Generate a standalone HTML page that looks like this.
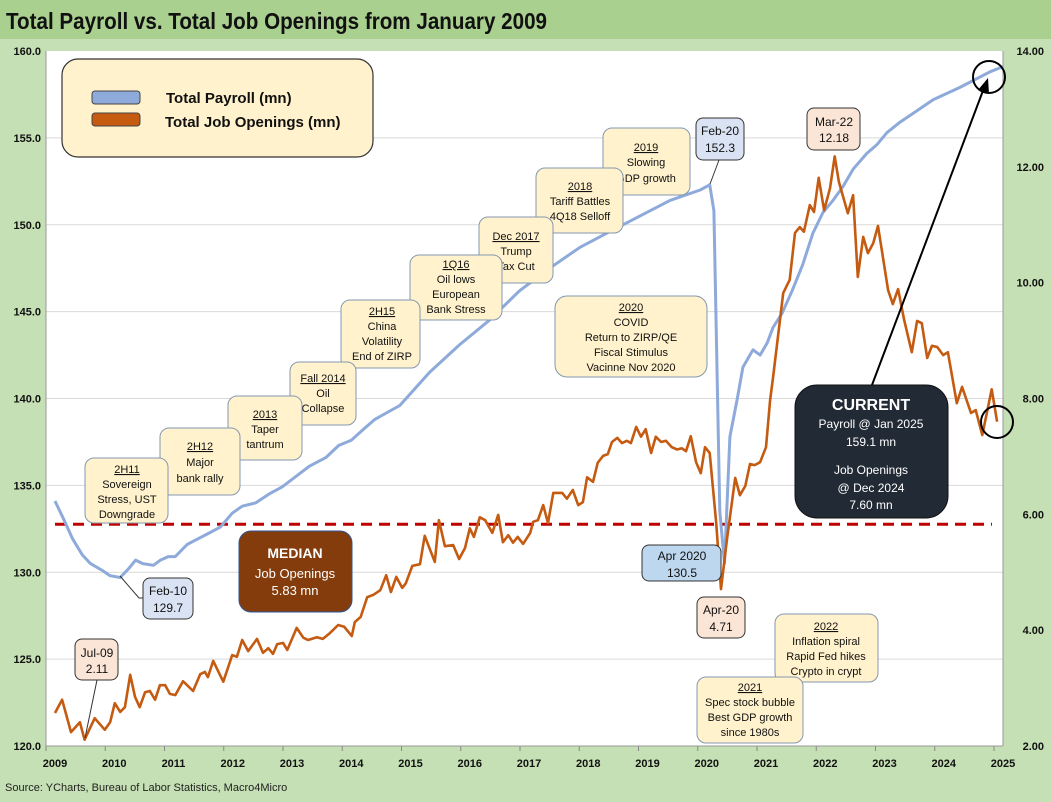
<!DOCTYPE html>
<html><head><meta charset="utf-8">
<style>
body{margin:0;width:1051px;height:802px;overflow:hidden;background:#c5e0b4;font-family:"Liberation Sans",sans-serif;}
svg{position:absolute;left:0;top:0}
</style></head>
<body>
<svg id="chart" width="1051" height="802" viewBox="0 0 1051 802">
<rect x="0" y="0" width="1051" height="39" fill="#a9d08e"/>
<text x="6" y="29" font-size="23" font-weight="bold" fill="#111" textLength="541" lengthAdjust="spacingAndGlyphs">Total Payroll vs. Total Job Openings from January 2009</text>
<rect x="46" y="51" width="957" height="695" fill="#fff"/>
<g id="grid"></g>
<g id="axes"></g>
<g id="series"></g>
<g id="notes"></g>
<text x="5" y="791" font-size="11" fill="#222">Source: YCharts, Bureau of Labor Statistics, Macro4Micro</text>
</svg>
<script>
const leftTicks=[120,125,130,135,140,145,150,155,160];
const rightTicks=[2,4,6,8,10,12,14];
const yearTicks=[2009,2010,2011,2012,2013,2014,2015,2016,2017,2018,2019,2020,2021,2022,2023,2024,2025];
const medianOpenings=5.83;
const payDates=[2009.0,2009.14,2009.3,2009.46,2009.6,2009.8,2009.93,2010.1,2010.24,2010.36,2010.48,2010.66,2010.78,2010.91,2011.03,2011.23,2011.4,2011.57,2011.79,2011.99,2012.16,2012.39,2012.61,2012.83,2013.06,2013.29,2013.57,2013.79,2014.0,2014.23,2014.4,2014.82,2015.32,2015.83,2016.33,2016.84,2017.35,2017.86,2018.36,2018.87,2019.38,2019.89,2020.05,2020.12,2020.22,2020.3,2020.39,2020.51,2020.61,2020.78,2020.9,2021.02,2021.12,2021.27,2021.44,2021.62,2021.79,2021.96,2022.13,2022.3,2022.47,2022.7,2022.87,2023.04,2023.26,2023.48,2023.82,2024.27,2024.78,2025.0];
const payValues=[134.1,133.1,131.9,131.0,130.5,130.1,129.8,129.7,130.2,130.7,130.5,130.4,130.7,130.9,130.9,131.6,131.9,132.2,132.6,133.4,133.8,134.0,134.5,134.9,135.5,136.1,136.6,137.3,137.6,138.3,138.8,139.6,141.5,143.1,144.5,146.2,147.5,148.7,149.6,150.5,151.4,152.0,152.3,150.8,133.5,130.5,137.8,139.9,141.8,142.8,142.5,143.2,144.1,144.9,146.2,147.7,149.5,150.7,151.4,152.2,153.2,154.1,154.6,155.3,155.9,156.4,157.2,157.9,158.8,159.1];
const joDates=[2009.0,2009.12,2009.27,2009.42,2009.5,2009.67,2009.84,2009.93,2010.01,2010.1,2010.18,2010.27,2010.35,2010.43,2010.52,2010.6,2010.69,2010.77,2010.86,2010.94,2011.03,2011.16,2011.33,2011.45,2011.53,2011.58,2011.67,2011.84,2011.99,2012.07,2012.16,2012.26,2012.41,2012.51,2012.6,2012.68,2012.75,2012.85,2012.92,2013.08,2013.19,2013.27,2013.42,2013.52,2013.64,2013.78,2013.88,2014.01,2014.06,2014.16,2014.27,2014.37,2014.49,2014.59,2014.67,2014.76,2014.86,2014.92,2015.03,2015.16,2015.24,2015.41,2015.48,2015.58,2015.72,2015.82,2015.92,2016.0,2016.07,2016.17,2016.26,2016.38,2016.48,2016.56,2016.65,2016.73,2016.81,2016.9,2017.02,2017.07,2017.15,2017.24,2017.32,2017.41,2017.56,2017.64,2017.74,2017.83,2017.91,2017.98,2018.08,2018.16,2018.25,2018.33,2018.4,2018.49,2018.57,2018.65,2018.72,2018.81,2018.89,2018.97,2019.06,2019.14,2019.23,2019.31,2019.41,2019.5,2019.58,2019.65,2019.73,2019.82,2019.9,2019.97,2020.05,2020.16,2020.24,2020.34,2020.48,2020.56,2020.65,2020.73,2020.81,2020.9,2021.0,2021.07,2021.12,2021.29,2021.4,2021.49,2021.57,2021.64,2021.74,2021.81,2021.89,2021.98,2022.08,2022.16,2022.23,2022.38,2022.47,2022.55,2022.64,2022.72,2022.81,2022.89,2023.06,2023.14,2023.23,2023.33,2023.46,2023.55,2023.63,2023.72,2023.8,2023.89,2023.99,2024.07,2024.22,2024.31,2024.46,2024.54,2024.65,2024.81,2024.9];
const joValues=[2.57,2.80,2.24,2.41,2.11,2.48,2.28,2.41,2.74,2.59,2.67,3.23,2.85,2.67,2.93,2.95,2.80,3.05,3.05,2.90,2.88,3.12,2.95,3.24,3.28,3.19,3.47,3.11,3.57,3.54,3.83,3.64,3.85,3.61,3.69,3.59,3.76,3.78,3.66,4.04,3.87,3.83,3.88,3.85,3.95,4.09,4.06,3.90,4.14,4.23,4.57,4.61,4.69,4.95,4.66,4.92,4.73,4.81,5.11,5.14,5.63,5.18,5.90,5.45,5.47,5.23,5.42,5.76,5.61,5.95,5.90,5.68,5.99,5.52,5.64,5.51,5.61,5.49,5.68,5.87,5.90,6.16,5.85,6.37,6.37,6.27,6.42,6.16,6.21,6.64,6.56,6.89,7.01,7.04,7.25,7.32,7.23,7.27,7.23,7.51,7.34,7.47,7.06,7.34,7.25,7.27,7.16,7.12,7.14,7.09,7.35,6.90,6.71,7.16,7.06,5.85,4.71,5.56,6.63,6.33,6.49,6.87,6.85,6.90,7.16,7.97,8.37,9.82,10.05,10.86,10.96,10.88,11.34,11.22,11.81,11.25,11.63,12.18,11.74,11.20,11.51,10.10,10.79,10.51,10.68,10.98,9.87,9.63,9.89,9.36,8.80,9.34,9.30,8.70,8.91,8.89,8.75,8.80,7.92,8.20,7.75,7.80,7.37,8.16,7.60];

const NS='http://www.w3.org/2000/svg';
const X=t=>55+(t-2009)*59.25;
const YL=v=>51+(160-v)*17.375;
const YR=v=>51+(14-v)*57.92;
function mk(tag,attrs,parent,text){const e=document.createElementNS(NS,tag);for(const k in attrs)e.setAttribute(k,attrs[k]);if(text!==undefined)e.textContent=text;document.getElementById(parent).appendChild(e);return e;}

leftTicks.forEach(v=>{
  if(v>120&&v<160){const g=mk('line',{x1:46,x2:1003,y1:YL(v),y2:YL(v),stroke:'#d9d9d9','stroke-width':1},'grid');
  
  }
  const t=mk('text',{x:41,y:YL(v)+4,'font-size':11,'font-weight':'bold','text-anchor':'end',fill:'#111'},'axes',v.toFixed(1));
  
  
});
rightTicks.forEach(v=>{
  const t=mk('text',{x:1044,y:YR(v)+4,'font-size':11,'font-weight':'bold','text-anchor':'end',fill:'#111'},'axes',v.toFixed(2));
  
  
});
yearTicks.forEach(y=>{
  const t=mk('text',{x:X(y),y:767,'font-size':11,'font-weight':'bold','text-anchor':'middle',fill:'#111'},'axes',String(y));
  
  
  const k=mk('line',{x1:X(y)-9,x2:X(y)-9,y1:746,y2:751,stroke:'#888'},'axes');
  
  
});
const ax=mk('line',{x1:46,x2:1003,y1:746,y2:746,stroke:'#999'},'axes');


const ax2=mk('line',{x1:46,x2:46,y1:51,y2:746,stroke:'#999'},'axes');


const ax3=mk('line',{x1:1003,x2:1003,y1:51,y2:746,stroke:'#999'},'axes');



const med=mk('line',{x1:55,x2:992,y1:YR(medianOpenings),y2:YR(medianOpenings),stroke:'#c00000','stroke-width':3,'stroke-dasharray':'11 7'},'series');



const pp=mk('polyline',{points:payDates.map((d,i)=>X(d).toFixed(1)+','+YL(payValues[i]).toFixed(1)).join(' '),fill:'none',stroke:'#8eaadb','stroke-width':3,'stroke-linejoin':'round'},'series');


const jp=mk('polyline',{points:joDates.map((d,i)=>X(d).toFixed(1)+','+YR(joValues[i]).toFixed(1)).join(' '),fill:'none',stroke:'#c55a11','stroke-width':2.6,'stroke-linejoin':'round'},'series');


</script>
<svg width="1051" height="802" viewBox="0 0 1051 802" style="pointer-events:none" font-family="Liberation Sans, sans-serif">
<g>
<rect x="62" y="59" width="311" height="98" rx="16" fill="#fff2cc" stroke="#333" stroke-width="1.2"/>
<rect x="92" y="91" width="48" height="13" rx="3" fill="#8eaadb" stroke="#444"/>
<rect x="92" y="113" width="48" height="13" rx="3" fill="#c55a11" stroke="#444"/>
<text x="166" y="103" font-size="15" font-weight="bold" fill="#111">Total Payroll (mn)</text>
<text x="165" y="127" font-size="15" font-weight="bold" fill="#111">Total Job Openings (mn)</text>
</g>
<g font-size="11" text-anchor="middle" fill="#111">
<g><rect x="603" y="128" width="87" height="67" rx="9" fill="#fff2cc" stroke="#8497b0"/><text x="646" y="151" text-decoration="underline">2019</text><text x="646" y="166">Slowing</text><text x="646" y="182">GDP growth</text></g>
<g><rect x="536" y="168" width="87" height="65" rx="9" fill="#fff2cc" stroke="#8497b0"/><text x="580" y="190" text-decoration="underline">2018</text><text x="580" y="205">Tariff Battles</text><text x="580" y="220">4Q18 Selloff</text></g>
<g><rect x="479" y="217" width="74" height="66" rx="9" fill="#fff2cc" stroke="#8497b0"/><text x="516" y="240" text-decoration="underline">Dec 2017</text><text x="516" y="255">Trump</text><text x="516" y="270">Tax Cut</text></g>
<g><rect x="410" y="255" width="92" height="65" rx="9" fill="#fff2cc" stroke="#8497b0"/><text x="456" y="268" text-decoration="underline">1Q16</text><text x="456" y="283">Oil lows</text><text x="456" y="298">European</text><text x="456" y="313">Bank Stress</text></g>
<g><rect x="341" y="300" width="79" height="68" rx="9" fill="#fff2cc" stroke="#8497b0"/><text x="382" y="315" text-decoration="underline">2H15</text><text x="382" y="330">China</text><text x="382" y="345">Volatility</text><text x="382" y="360">End of ZIRP</text></g>
<g><rect x="290" y="362" width="66" height="63" rx="9" fill="#fff2cc" stroke="#8497b0"/><text x="323" y="382" text-decoration="underline">Fall 2014</text><text x="323" y="397">Oil</text><text x="323" y="412">Collapse</text></g>
<g><rect x="228" y="396" width="74" height="64" rx="9" fill="#fff2cc" stroke="#8497b0"/><text x="265" y="418" text-decoration="underline">2013</text><text x="265" y="433">Taper</text><text x="265" y="448">tantrum</text></g>
<g><rect x="160" y="428" width="80" height="67" rx="9" fill="#fff2cc" stroke="#8497b0"/><text x="200" y="450" text-decoration="underline">2H12</text><text x="200" y="466">Major</text><text x="200" y="482">bank rally</text></g>
<g><rect x="85" y="458" width="83" height="65" rx="9" fill="#fff2cc" stroke="#8497b0"/><text x="127" y="473" text-decoration="underline">2H11</text><text x="127" y="488">Sovereign</text><text x="127" y="503">Stress, UST</text><text x="127" y="518">Downgrade</text></g>
<g><rect x="555" y="296" width="152" height="81" rx="12" fill="#fff2cc" stroke="#8497b0"/><text x="631" y="311" text-decoration="underline">2020</text><text x="631" y="326">COVID</text><text x="631" y="341">Return to ZIRP/QE</text><text x="631" y="356">Fiscal Stimulus</text><text x="631" y="371">Vacinne Nov 2020</text></g>
<g><rect x="775" y="614" width="103" height="68" rx="9" fill="#fff2cc" stroke="#8497b0"/><text x="826" y="630" text-decoration="underline">2022</text><text x="826" y="645">Inflation spiral</text><text x="826" y="660">Rapid Fed hikes</text><text x="826" y="675">Crypto in crypt</text></g>
<g><rect x="697" y="677" width="106" height="66" rx="9" fill="#fff2cc" stroke="#8497b0"/><text x="750" y="691" text-decoration="underline">2021</text><text x="750" y="706">Spec stock bubble</text><text x="750" y="721">Best GDP growth</text><text x="750" y="736">since 1980s</text></g>
<g font-size="12"><line x1="710" y1="184" x2="719" y2="160" stroke="#333"/><rect x="696" y="118" width="48" height="42" rx="7" fill="#dae3f3" stroke="#333"/><text x="720" y="135">Feb-20</text><text x="720" y="152">152.3</text></g>
<g font-size="12"><rect x="807" y="108" width="53" height="42" rx="7" fill="#fbe5d6" stroke="#333"/><text x="834" y="126">Mar-22</text><text x="834" y="142">12.18</text></g>
<g font-size="12"><rect x="642" y="545" width="79" height="36" rx="7" fill="#bdd7ee" stroke="#333"/><text x="682" y="560">Apr 2020</text><text x="682" y="577">130.5</text></g>
<g font-size="12"><rect x="697" y="597" width="48" height="41" rx="7" fill="#fbe5d6" stroke="#333"/><text x="721" y="614">Apr-20</text><text x="721" y="631">4.71</text></g>
<g font-size="12"><polyline points="120,576 139,598 143,598" fill="none" stroke="#333"/><rect x="143" y="578" width="50" height="41" rx="7" fill="#dae3f3" stroke="#333"/><text x="168" y="595">Feb-10</text><text x="168" y="612">129.7</text></g>
<g font-size="12"><line x1="97" y1="680" x2="85" y2="738" stroke="#333"/><rect x="75" y="639" width="43" height="41" rx="7" fill="#fbe5d6" stroke="#333"/><text x="97" y="657">Jul-09</text><text x="97" y="673">2.11</text></g>
<g><rect x="239" y="531" width="113" height="81" rx="12" fill="#843c0c" stroke="#2f5597"/><text x="295" y="558" font-size="14" font-weight="bold" fill="#fff">MEDIAN</text><text x="295" y="578" font-size="13" fill="#fff">Job Openings</text><text x="295" y="595" font-size="13" fill="#fff">5.83  mn</text></g>
<g><line x1="872" y1="385" x2="984" y2="88" stroke="#000" stroke-width="2"/><polygon points="988,78 978,90 989,94" fill="#000"/><rect x="795" y="385" width="153" height="133" rx="22" fill="#222a35" stroke="#111"/><text x="871" y="410" font-size="16" font-weight="bold" fill="#fff">CURRENT</text><text x="871" y="428" font-size="12" fill="#fff">Payroll @ Jan 2025</text><text x="871" y="446" font-size="12" fill="#fff">159.1 mn</text><text x="871" y="474" font-size="12" fill="#fff">Job Openings</text><text x="871" y="492" font-size="12" fill="#fff">@  Dec 2024</text><text x="871" y="509" font-size="12" fill="#fff">7.60 mn</text></g>
<circle cx="989" cy="77" r="16" fill="none" stroke="#000" stroke-width="2"/>
<circle cx="997" cy="422" r="16" fill="none" stroke="#000" stroke-width="2"/>
</g>
</svg>
</body></html>
